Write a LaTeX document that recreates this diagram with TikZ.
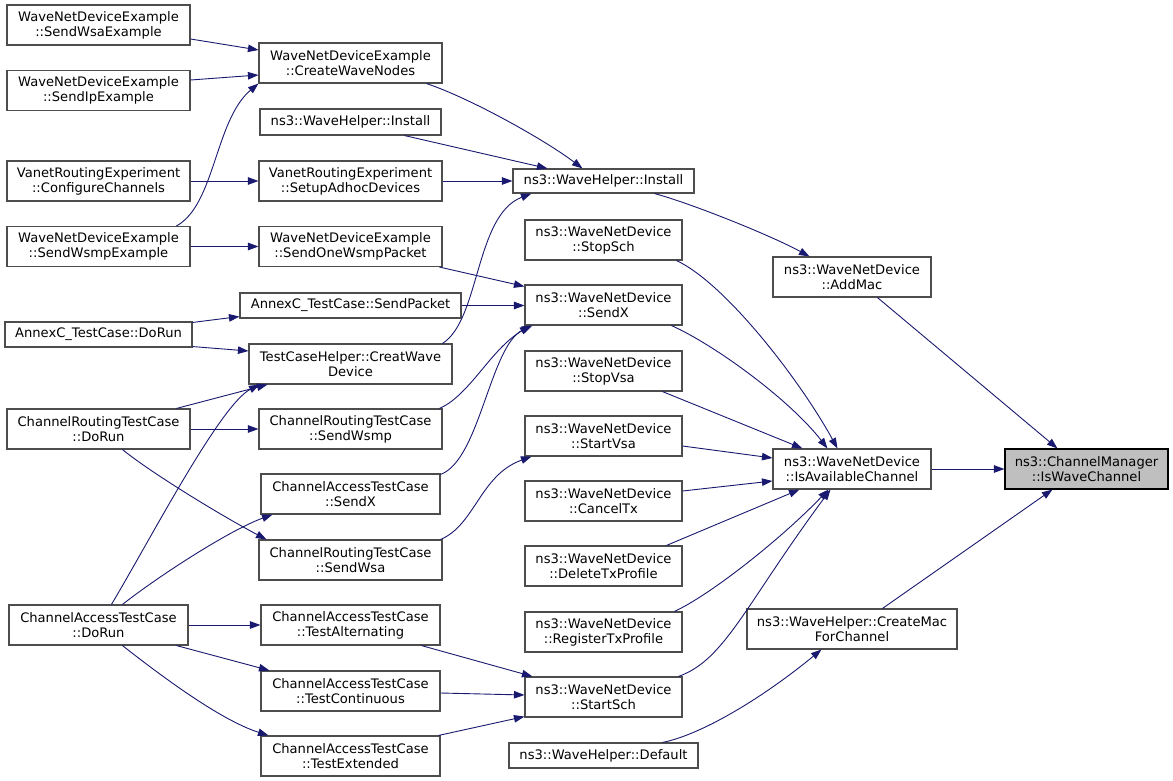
\documentclass[tikz,border=0pt]{standalone}
\usepackage{fontspec}
\setmainfont{DejaVu Sans}
\usetikzlibrary{arrows.meta,calc}
\definecolor{edgeblue}{HTML}{191970}
\definecolor{boxgray}{HTML}{4D4D4D}
\definecolor{hlgray}{HTML}{BFBFBF}
\begin{document}
\begin{tikzpicture}[x=1pt,y=-1pt,
  box/.style={draw=boxgray,line width=1.1pt,fill=white,inner sep=0pt,align=center,
    minimum height=40pt,font=\fontsize{13.1}{15}\selectfont},
  sbox/.style={box,minimum height=25pt},
  edge/.style={draw=edgeblue,line width=0.9pt,-{Triangle[length=10.5pt,width=7.5pt]}},
]
\useasboundingbox[fill=white] (0,0) rectangle (1173,781);
% column 1
\node[box,minimum width=183pt] (n1) at (98.5,25) {WaveNetDeviceExample\\::SendWsaExample};
\node[box,minimum width=183pt] (n2) at (98.5,90.5) {WaveNetDeviceExample\\::SendIpExample};
\node[box,minimum width=183pt] (n3) at (98.5,181) {VanetRoutingExperiment\\::ConfigureChannels};
\node[box,minimum width=183pt] (n4) at (98.5,246.5) {WaveNetDeviceExample\\::SendWsmpExample};
\node[sbox,minimum width=187pt] (n5) at (98.5,334.5) {AnnexC\_TestCase::DoRun};
\node[box,minimum width=183pt] (n6) at (98.5,429) {ChannelRoutingTestCase\\::DoRun};
\node[box,minimum width=179pt] (n7) at (98.5,625) {ChannelAccessTestCase\\::DoRun};
% column 2
\node[box,minimum width=183pt] (m1) at (350.5,63) {WaveNetDeviceExample\\::CreateWaveNodes};
\node[sbox,minimum width=181pt,minimum height=26pt] (m2) at (350.5,122) {ns3::WaveHelper::Install};
\node[box,minimum width=183pt] (m3) at (350.5,181) {VanetRoutingExperiment\\::SetupAdhocDevices};
\node[box,minimum width=183pt] (m4) at (350.5,246.5) {WaveNetDeviceExample\\::SendOneWsmpPacket};
\node[sbox,minimum width=221pt] (m5) at (350.5,305.5) {AnnexC\_TestCase::SendPacket};
\node[box,minimum width=203pt] (m6) at (350.5,364) {TestCaseHelper::CreatWave\\Device};
\node[box,minimum width=183pt] (m7) at (350.5,429) {ChannelRoutingTestCase\\::SendWsmp};
\node[box,minimum width=179pt] (m8) at (350.5,494) {ChannelAccessTestCase\\::SendX};
\node[box,minimum width=183pt] (m9) at (350.5,560) {ChannelRoutingTestCase\\::SendWsa};
\node[box,minimum width=179pt] (m10) at (350.5,625) {ChannelAccessTestCase\\::TestAlternating};
\node[box,minimum width=179pt] (m11) at (350.5,691) {ChannelAccessTestCase\\::TestContinuous};
\node[box,minimum width=179pt] (m12) at (350.5,756) {ChannelAccessTestCase\\::TestExtended};
% column 3
\node[sbox,minimum width=181pt,minimum height=24pt] (k1) at (603.5,181) {ns3::WaveHelper::Install};
\node[box,minimum width=157pt] (k2) at (603.5,240) {ns3::WaveNetDevice\\::StopSch};
\node[box,minimum width=157pt] (k3) at (603.5,305) {ns3::WaveNetDevice\\::SendX};
\node[box,minimum width=157pt] (k4) at (603.5,371) {ns3::WaveNetDevice\\::StopVsa};
\node[box,minimum width=157pt] (k5) at (603.5,436) {ns3::WaveNetDevice\\::StartVsa};
\node[box,minimum width=157pt] (k6) at (603.5,501) {ns3::WaveNetDevice\\::CancelTx};
\node[box,minimum width=157pt] (k7) at (603.5,566) {ns3::WaveNetDevice\\::DeleteTxProfile};
\node[box,minimum width=157pt] (k8) at (603.5,632) {ns3::WaveNetDevice\\::RegisterTxProfile};
\node[box,minimum width=157pt] (k9) at (603.5,697) {ns3::WaveNetDevice\\::StartSch};
\node[sbox,minimum width=189pt] (k10) at (603.5,755.5) {ns3::WaveHelper::Default};
% column 4
\node[box,minimum width=158pt] (p1) at (852,277) {ns3::WaveNetDevice\\::AddMac};
\node[box,minimum width=158pt] (p2) at (852,469) {ns3::WaveNetDevice\\::IsAvailableChannel};
\node[box,minimum width=210pt] (p3) at (852,629) {ns3::WaveHelper::CreateMac\\ForChannel};
% column 5
\node[box,draw=black,fill=hlgray,minimum width=163pt] (q) at (1086.5,469) {ns3::ChannelManager\\::IsWaveChannel};
% edges to IsWaveChannel
\draw[edge] (p2.east) -- (q.west);
\draw[edge] ($(p1.south west)+(105,0)$) -- ($(q.north west)+(53,0)$);
\draw[edge] ($(p3.north west)+(136,0)$) -- ($(q.south west)+(48,0)$);
% to AddMac
\draw[edge] ($(k1.south west)+(142,0)$) .. controls (690,203) and (770,235) .. ($(p1.north west)+(37,0)$);
% to IsAvailableChannel
\draw[edge] ($(k2.south west)+(152,0)$) .. controls (725,283) and (800,380) .. ($(p2.north west)+(65,0)$);
\draw[edge] ($(k3.south west)+(147,0)$) .. controls (715,345) and (790,400) .. ($(p2.north west)+(55,0)$);
\draw[edge] ($(k4.south west)+(138,0)$) -- ($(p2.north west)+(30,0)$);
\draw[edge] ($(k5.east)+(0,10)$) -- ($(p2.west)+(0,-11)$);
\draw[edge] ($(k6.east)+(0,-10)$) -- ($(p2.west)+(0,12)$);
\draw[edge] ($(k7.north west)+(142,0)$) -- ($(p2.south west)+(27,0)$);
\draw[edge] ($(k8.north west)+(150,0)$) .. controls (710,595) and (780,540) .. ($(p2.south west)+(56,0)$);
\draw[edge] ($(k9.north west)+(154,0)$) .. controls (725,660) and (745,605) .. ($(p2.south west)+(58,0)$);
% to CreateMacForChannel
\draw[edge] ($(k10.north west)+(154,0)$) .. controls (700,735) and (760,700) .. ($(p3.south west)+(75,0)$);
% to WaveHelper::Install (col 3)
\draw[edge] ($(m1.south west)+(168,0)$) .. controls (470,98) and (545,140) .. ($(k1.north west)+(70,0)$);
\draw[edge] ($(m2.south west)+(145,0)$) -- ($(k1.north west)+(35,0)$);
\draw[edge] (m3.east) -- (k1.west);
\draw[edge] ($(m6.north west)+(194,0)$) .. controls (480,320) and (475,215) .. ($(k1.south west)+(19,0)$);
% to WaveNetDevice::SendX
\draw[edge] ($(m4.south west)+(181,0)$) -- ($(k3.north west)+(0,2)$);
\draw[edge] (m5.east) -- (m5.east -| k3.west);
\draw[edge] ($(m7.north west)+(181,0)$) .. controls (470,395) and (490,350) .. ($(k3.south west)+(6,0)$);
\draw[edge] ($(m8.north east)+(0,1)$) .. controls (480,460) and (490,345) .. ($(k3.south west)+(8,0)$);
% to StartVsa
\draw[edge] ($(m9.north east)+(-2,0)$) .. controls (475,525) and (480,475) .. ($(k5.south west)+(7,0)$);
% to StartSch
\draw[edge] ($(m10.south west)+(161,0)$) -- ($(k9.north west)+(8,0)$);
\draw[edge] ($(m11.east)+(0,2)$) -- ($(k9.west)+(0,-2)$);
\draw[edge] ($(m12.north east)+(-2,0)$) -- ($(k9.south west)+(0,-1)$);
% column 1 to column 2
\draw[edge] ($(n1.east)+(0,14)$) -- ($(m1.west)+(0,-13)$);
\draw[edge] ($(n2.east)+(0,-10.5)$) -- ($(m1.west)+(0,12)$);
\draw[edge] ($(n4.north west)+(170,0)$) .. controls (215,205) and (215,120) .. (m1.south west);
\draw[edge] (n3.east) -- (m3.west);
\draw[edge] (n4.east) -- (m4.west);
\draw[edge] ($(n5.north east)+(0,1)$) -- ($(m5.south west)+(0,-2)$);
\draw[edge] ($(n5.south east)+(0,-1)$) -- ($(m6.west)+(0,-13)$);
\draw[edge] ($(n6.north west)+(170,0)$) -- ($(m6.south west)+(19,0)$);
\draw[edge] (n6.east) -- (m7.west);
\draw[edge] ($(n6.south west)+(116,0)$) .. controls (150,472) and (220,515) .. ($(m9.north west)+(8,0)$);
\draw[edge] ($(n7.north west)+(103,0)$) .. controls (150,540) and (220,405) .. ($(m6.south west)+(11,0)$);
\draw[edge] ($(n7.north west)+(114,0)$) .. controls (160,575) and (230,530) .. ($(m8.south west)+(12,0)$);
\draw[edge] (n7.east) -- (m10.west);
\draw[edge] ($(n7.south west)+(168,0)$) -- ($(m11.north west)+(9,0)$);
\draw[edge] ($(n7.south west)+(114,0)$) .. controls (160,675) and (220,720) .. ($(m12.north west)+(8,0)$);
\end{tikzpicture}
\end{document}
